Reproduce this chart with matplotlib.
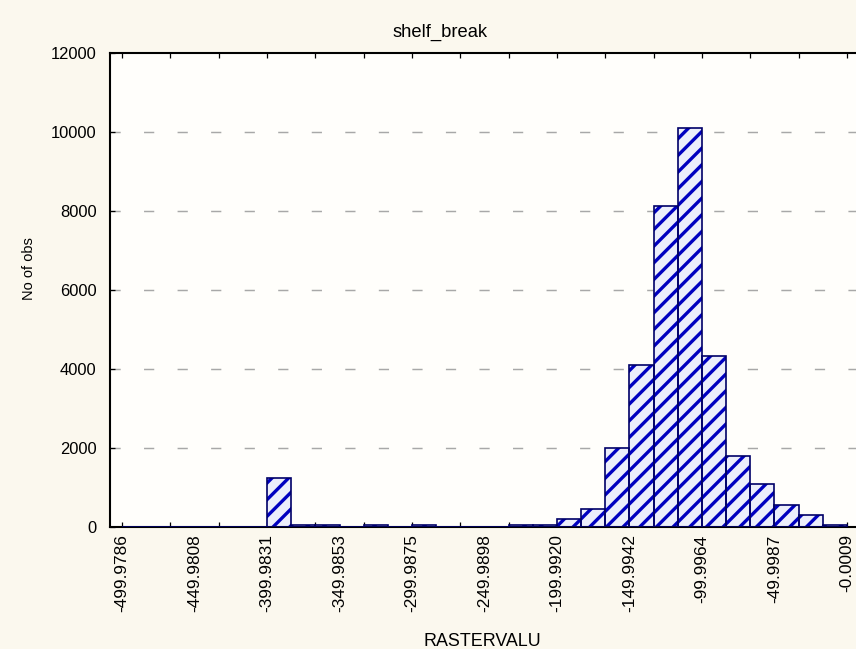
import numpy as np
import matplotlib
matplotlib.use("Agg")
import matplotlib.pyplot as plt
from matplotlib.ticker import FixedLocator, NullFormatter, FixedFormatter

# ---- data ----
title = "shelf_break"
x_label = "RASTERVALU"
y_label = "No of obs"
bin_start = -499.9786
bin_end = -0.0009
n_bins = 30
counts = [0, 0, 0, 0, 0, 0, 1230, 50, 50, 0,
          50, 0, 50, 0, 0, 0, 40, 40, 200, 450,
          2000, 4100, 8130, 10100, 4330, 1800, 1080, 560, 300, 50]
x_tick_labels = ["-499.9786", "-449.9808", "-399.9831", "-349.9853",
                 "-299.9875", "-249.9898", "-199.9920", "-149.9942",
                 "-99.9964", "-49.9987", "-0.0009"]
y_ticks = [0, 2000, 4000, 6000, 8000, 10000, 12000]
y_max = 12000

# ---- style ----
DPI = 150
W, H = 856, 649
plt.rcParams["font.family"] = ["Liberation Sans", "DejaVu Sans"]
plt.rcParams["hatch.linewidth"] = 1.6

fig_bg = "#FBF8EE"
ax_bg = "#FFFEFB"
fill_c = "#ECEEFB"
hatch_c = "#0000C0"
edge_c = "#000068"

fig = plt.figure(figsize=(W / DPI, H / DPI), dpi=DPI, facecolor=fig_bg)
ax_left, ax_right, ax_top, ax_bot = 110, 859, 53, 527
ax = fig.add_axes([ax_left / W, (H - ax_bot) / H,
                   (ax_right - ax_left) / W, (ax_bot - ax_top) / H])
ax.set_facecolor(ax_bg)

bw = (bin_end - bin_start) / n_bins
lefts = bin_start + bw * np.arange(n_bins)

ax.bar(lefts, counts, width=bw, align="edge", facecolor=fill_c,
       edgecolor=hatch_c, hatch="///", linewidth=0, zorder=2)
ax.bar(lefts, counts, width=bw, align="edge", fill=False,
       edgecolor=edge_c, linewidth=0.8, zorder=3)

ax.set_xlim(bin_start - bw / 2, bin_end + bw / 2)
ax.set_ylim(0, y_max)

# grid lines
for yv in y_ticks[1:-1]:
    ax.axhline(yv, color="#A8A8A8", lw=0.7, dashes=(7.0, 16.0),
               dash_capstyle="butt", zorder=1)

# y ticks
ax.set_yticks(y_ticks)
ax.set_yticklabels([str(v) for v in y_ticks])
ax.tick_params(axis="y", direction="in", length=2.5, width=0.6,
               pad=6.5, labelsize=7.9, colors="black", right=False)

# x ticks: marks every two bins, labels every three bins
mark_pos = bin_start + 2 * bw * np.arange(n_bins // 2 + 1)
label_pos = [float(s) for s in x_tick_labels]
ax.xaxis.remove_overlapping_locs = False
ax.xaxis.set_major_locator(FixedLocator(mark_pos))
ax.xaxis.set_major_formatter(NullFormatter())
ax.xaxis.set_minor_locator(FixedLocator(label_pos))
ax.xaxis.set_minor_formatter(FixedFormatter(x_tick_labels))
ax.tick_params(axis="x", which="major", direction="in", length=2.5,
               width=0.6, top=True, bottom=True)
ax.tick_params(axis="x", which="minor", length=0, pad=3.5,
               labelsize=8.3, labelrotation=90)
for lab in ax.xaxis.get_minorticklabels():
    lab.set_verticalalignment("top")

for side in ["left", "bottom", "top", "right"]:
    ax.spines[side].set_linewidth(1.0)
    ax.spines[side].set_color("black")

fig.text(440 / W, 1 - 32 / H, title, ha="center", va="center", fontsize=8.8)
fig.text(482 / W, 1 - 641 / H, x_label, ha="center", va="center", fontsize=8.6)
fig.text(29 / W, 1 - 269 / H, y_label, ha="center", va="center",
         rotation=90, fontsize=7.0)

fig.savefig("out.png", dpi=DPI, facecolor=fig_bg)
